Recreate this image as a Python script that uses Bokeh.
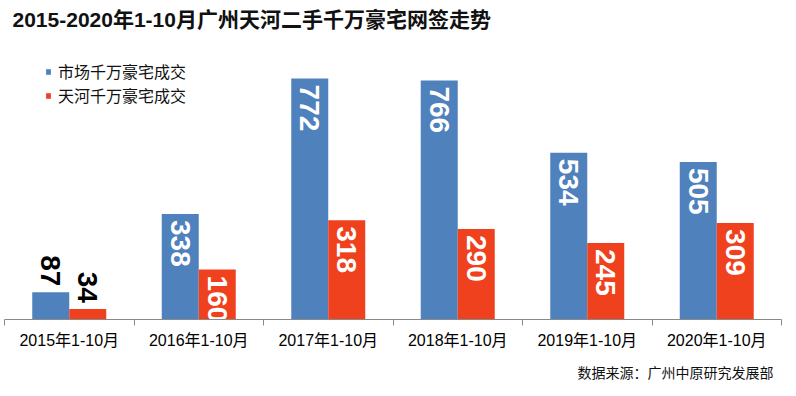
import numpy as np
from bokeh.plotting import figure
from bokeh.models import Range1d, FixedTicker, LinearAxis, Title, ColumnDataSource
from bokeh.core.properties import value
from bokeh.embed import file_html
from bokeh.resources import INLINE

# ---- data ----
categories = ["2015年1-10月", "2016年1-10月", "2017年1-10月", "2018年1-10月", "2019年1-10月", "2020年1-10月"]
market = [87, 338, 772, 766, 534, 505]
tianhe = [34, 160, 318, 290, 245, 309]
series_names = ["市场千万豪宅成交", "天河千万豪宅成交"]
title_text = "2015-2020年1-10月广州天河二手千万豪宅网签走势"
source_text = "数据来源：广州中原研究发展部"

BLUE = "#4F81BD"
RED = "#F0411E"
CJK = "Liberation Sans, Noto Sans CJK SC"

n = len(categories)
centers = np.arange(n) + 0.5
bw = 0.2857

p = figure(width=796, height=396, output_backend="svg", toolbar_location=None,
           x_range=Range1d(0, 6), y_range=Range1d(0, 894),
           x_axis_type=None, y_axis_type=None,
           min_border_left=4, min_border_right=15, min_border_top=40, min_border_bottom=77)
p.outline_line_color = None
p.grid.visible = False
p.background_fill_color = "white"
p.border_fill_color = "white"

p.title = Title(text=title_text, text_font=CJK, text_font_size="21px", text_font_style="bold",
                text_color="#111111", align="left", offset=8, standoff=15, vertical_align="top")

xb = centers - bw / 2
xr = centers + bw / 2
src_b = ColumnDataSource(dict(x=xb, top=market))
src_r = ColumnDataSource(dict(x=xr, top=tianhe))

p.vbar(x="x", top="top", width=bw, source=src_b, fill_color=BLUE, line_color=None,
       legend_label=series_names[0])
p.vbar(x="x", top="top", width=bw, source=src_r, fill_color=RED, line_color=None,
       legend_label=series_names[1])

# value labels
all_x = np.concatenate([xb, xr])
all_v = market + tianhe
ins = [i for i, v in enumerate(all_v) if v >= 100]
out = [i for i, v in enumerate(all_v) if v < 100]
src_in = ColumnDataSource(dict(x=all_x[ins], y=[all_v[i] for i in ins], t=[str(all_v[i]) for i in ins]))
src_out = ColumnDataSource(dict(x=all_x[out], y=[all_v[i] for i in out], t=[str(all_v[i]) for i in out]))
p.text(x="x", y="y", text="t", source=src_in, angle=-np.pi / 2, text_align="left",
       text_baseline="middle", y_offset=6, text_color="white", text_font=value("Liberation Sans"),
       text_font_size="28px", text_font_style="bold")
p.text(x="x", y="y", text="t", source=src_out, angle=-np.pi / 2, text_align="right",
       text_baseline="middle", y_offset=-6, text_color="black", text_font=value("Liberation Sans"),
       text_font_size="28px", text_font_style="bold")

# x axis: labels at centers, ticks at boundaries
ax = LinearAxis(ticker=FixedTicker(ticks=list(centers), minor_ticks=list(range(n + 1))))
ax.major_label_overrides = {float(c): lab for c, lab in zip(centers, categories)}
ax.major_tick_out = 0
ax.major_tick_in = 0
ax.minor_tick_out = 6
ax.minor_tick_in = 0
ax.minor_tick_line_color = "#898989"
ax.axis_line_color = "#898989"
ax.major_label_text_font = CJK
ax.major_label_text_font_size = "16px"
ax.major_label_text_color = "black"
ax.major_label_standoff = 6
p.add_layout(ax, "below")

p.add_layout(Title(text=source_text, text_font="Noto Sans CJK SC", text_font_size="14px",
                   text_font_style="normal", text_color="#111111", align="right", offset=8,
                   standoff=17, vertical_align="bottom"), "below")

lg = p.legend[0]
lg.location = (41, 212)
lg.padding = 0
lg.margin = 0
lg.spacing = 0
lg.border_line_color = None
lg.background_fill_alpha = 0
lg.glyph_width = 6
lg.glyph_height = 7
lg.label_height = 20
lg.label_standoff = 7
lg.label_text_font = "Noto Sans CJK SC"
lg.label_text_font_size = "16px"
lg.label_text_color = "#111111"

open("out.html", "w").write(file_html(p, INLINE))
